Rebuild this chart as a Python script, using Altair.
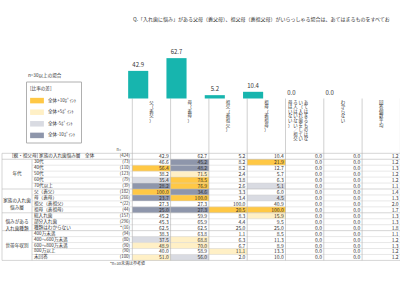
import altair as alt
import pandas as pd

FONT = "Noto Sans CJK JP"
TEAL = "#17b5ae"

title_text = "Q.「入れ歯に悩み」がある父母（義父母）、祖父母（義祖父母）がいらっしゃる場合は、あてはまるものをすべてお"
categories = ["父（義父）", "母（義母）", "祖父（義祖父）", "祖母（義祖母）",
              "あてはまるものはない（入れ歯をしている人はいない／祖父母はいない）", "わからない"]
bar_values = [42.9, 62.7, 5.2, 10.4, 0.0, 0.0]
avg_header = "回答個数平均"
y_ticks = [0, 20, 40, 60, 80]

row_labels = ["[親・祖父母] 家族の入れ歯悩み層　全体", "30代", "40代", "50代", "60代", "70代以上",
              "父（義父）", "母（義母）", "祖父（義祖父）", "祖母（義祖母）",
              "総入れ歯", "部分入れ歯", "種類はわからない",
              "400万未満", "400～600万未満", "600～800万未満", "800万以上", "未回答"]
row_n = [424, 73, 110, 123, 79, 39, 182, 266, 22, 44, 157, 296, 16, 94, 80, 90, 90, 100]

col_father = [42.9, 46.6, 56.4, 38.2, 35.4, 28.2, 100.0, 23.7, 27.3, 25.0, 45.2, 45.3, 62.5, 38.3, 37.5, 48.9, 40.0, 51.0]
col_mother = [62.7, 45.2, 48.2, 71.5, 78.5, 76.9, 34.6, 100.0, 27.3, 27.3, 59.9, 65.9, 62.5, 63.8, 68.8, 70.0, 58.9, 56.0]
col_gfather = [5.2, 8.2, 8.2, 2.4, 3.8, 2.6, 3.3, 3.4, 100.0, 20.5, 8.3, 4.4, 25.0, 1.1, 6.3, 6.7, 11.1, 2.0]
col_gmother = [10.4, 21.9, 12.7, 5.7, 6.3, 5.1, 6.0, 4.5, 40.9, 100.0, 15.9, 9.5, 25.0, 8.5, 11.3, 8.9, 13.3, 10.0]
col_none = [0.0, 0.0, 0.0, 0.0, 0.0, 0.0, 0.0, 0.0, 0.0, 0.0, 0.0, 0.0, 0.0, 0.0, 0.0, 0.0, 0.0, 0.0]
col_unknown = [0.0, 0.0, 0.0, 0.0, 0.0, 0.0, 0.0, 0.0, 0.0, 0.0, 0.0, 0.0, 0.0, 0.0, 0.0, 0.0, 0.0, 0.0]
col_avg = [1.2, 1.2, 1.3, 1.2, 1.2, 1.1, 1.4, 1.3, 2.0, 1.7, 1.3, 1.3, 1.8, 1.1, 1.2, 1.3, 1.2, 1.2]

groups = [("年代", 1, 6), ("家族の入れ歯\n悩み層", 6, 10), ("悩みがある\n入れ歯種類", 10, 13), ("世帯年収別", 13, 18)]
legend_labels = ["全体+10ﾎﾟｲﾝﾄ", "全体+5ﾎﾟｲﾝﾄ", "全体-5ﾎﾟｲﾝﾄ", "全体-10ﾎﾟｲﾝﾄ"]
legend_colors = ["#ffc845", "#fff0c6", "#d9dbe2", "#8e96ab"]

# ---------------- table data ----------------
value_cols = [col_father, col_mother, col_gfather, col_gmother, col_none, col_unknown, col_avg]
cells = []
for j, col in enumerate(value_cols):
    for i, v in enumerate(col):
        cls = ""
        if j < 6 and i > 0 and row_n[i] >= 30:
            d = v - col[0]
            if d >= 10:
                cls = legend_labels[0]
            elif d >= 5:
                cls = legend_labels[1]
            elif d <= -10:
                cls = legend_labels[3]
            elif d <= -5:
                cls = legend_labels[2]
        cells.append({"x0": j, "x1": j + 1, "y0": i, "y1": i + 1, "ym": i + 0.5,
                      "label": f"{v:.1f}", "cls": cls})
cells_df = pd.DataFrame(cells)

rows_df = pd.DataFrame({"ym": [i + 0.5 for i in range(len(row_labels))],
                        "label": row_labels,
                        "n": [("*" if n < 30 else "") + f"({n})" for n in row_n]})
group_df = pd.DataFrame({"label": [g[0] for g in groups],
                         "ym": [(g[1] + g[2]) / 2 for g in groups]})

# vertical (tategaki) headers: one character per line, long labels wrapped right-to-left
header_texts = categories + [avg_header]
hdr = []
for j, t in enumerate(header_texts):
    chunks = [t[k:k + 9] for k in range(0, len(t), 9)]
    m = len(chunks)
    shift = -0.17 if m > 1 else 0.0
    for c, ch in enumerate(chunks):
        off = ((m - 1) / 2 - c) * 0.138 + shift
        hdr.append({"x": j + 0.5 + off, "t": "\n".join(ch)})
hdr_df = pd.DataFrame(hdr)

bounds = [0, 1, 6, 10, 13, 18]
full_lines = pd.DataFrame({"y": bounds})
inner_lines = pd.DataFrame({"y": [k for k in range(1, 18) if k not in bounds]})
vlines = pd.DataFrame({"k": list(range(8))})

T_TOP, T_BOT = 153.3, 260.4
tx = alt.Scale(domain=[0, 7], range=[132.3, 400.4])
ty = alt.Scale(domain=[0, 18], range=[T_TOP, T_BOT])


def TX(f):
    return alt.X(f, type="quantitative", scale=tx, axis=None)


def TY(f):
    return alt.Y(f, type="quantitative", scale=ty, axis=None)


txt = dict(font=FONT, color="#333333")

cell_rects = alt.Chart(cells_df).transform_filter("datum.cls != ''").mark_rect().encode(
    x=TX("x0"), x2="x1", y=TY("y0"), y2="y1",
    color=alt.Color("cls:N", scale=alt.Scale(domain=legend_labels, range=legend_colors),
                    legend=alt.Legend(title="[比率の差]", orient="none", legendX=26, legendY=81.5,
                                      titleFontSize=4.6, titleFont=FONT, titleFontWeight="normal",
                                      titleColor="#333", labelFontSize=4.6, labelFont=FONT,
                                      labelColor="#333", symbolType="M-1,-0.4H1V0.4H-1Z",
                                      symbolSize=190, symbolStrokeWidth=0, symbolOpacity=1,
                                      strokeColor="#b0b0b0", padding=4, rowPadding=1.6,
                                      labelOffset=4, titlePadding=3.5, fillColor="white")))

cell_text = alt.Chart(cells_df).mark_text(align="right", baseline="middle", dx=-1.8,
                                          fontSize=5, **txt).encode(
    x=TX("x1"), y=TY("ym"), text="label:N")

hl_full = alt.Chart(full_lines).mark_rule(color="#b8b8b8", strokeWidth=0.6).encode(
    x=alt.value(2), x2=alt.value(400), y=TY("y"))
hl_inner = alt.Chart(inner_lines).mark_rule(color="#d0d0d0", strokeWidth=0.5).encode(
    x=alt.value(32), x2=alt.value(400), y=TY("y"))
vl = alt.Chart(vlines).mark_rule(color="#b0b0b0", strokeWidth=0.6).encode(
    x=TX("k"), y=alt.value(98.5), y2=alt.value(T_BOT))
vl_left = alt.Chart(pd.DataFrame({"a": [0]})).mark_rule(color="#b8b8b8", strokeWidth=0.6).encode(
    x=alt.value(2), y=alt.value(T_TOP), y2=alt.value(T_BOT))
vl_grp = alt.Chart(pd.DataFrame({"a": [0]})).mark_rule(color="#b8b8b8", strokeWidth=0.6).encode(
    x=alt.value(32), y=alt.value(T_TOP + (T_BOT - T_TOP) / 18), y2=alt.value(T_BOT))

row_text = alt.Chart(rows_df).transform_filter("datum.ym > 1").mark_text(
    align="left", baseline="middle", fontSize=4.6, **txt).encode(
    x=alt.value(34), y=TY("ym"), text="label:N")
row0_text = alt.Chart(rows_df).transform_filter("datum.ym < 1").mark_text(
    align="left", baseline="middle", fontSize=4.6, **txt).encode(
    x=alt.value(12), y=TY("ym"), text="label:N")
n_text = alt.Chart(rows_df).mark_text(align="right", baseline="middle", fontSize=4.4, **txt).encode(
    x=alt.value(130), y=TY("ym"), text="n:N")
grp_text = alt.Chart(group_df).mark_text(align="center", baseline="middle", fontSize=4.6,
                                         lineBreak="\n", lineHeight=7, **txt).encode(
    x=alt.value(17), y=TY("ym"), text="label:N")

hdr_text = alt.Chart(hdr_df).mark_text(align="center", baseline="top", fontSize=4.4,
                                       lineBreak="\n", lineHeight=4.6, **txt).encode(
    x=TX("x"), y=alt.value(100.5), text="t:N")

n_hdr = alt.Chart(pd.DataFrame({"t": ["n="]})).mark_text(
    align="right", baseline="middle", fontSize=3.8, **txt).encode(
    x=alt.value(121), y=alt.value(149.5), text="t:N")
foot = alt.Chart(pd.DataFrame({"t": ["*n=30未満は参考値"]})).mark_text(
    align="left", baseline="middle", fontSize=4, **txt).encode(
    x=alt.value(110), y=alt.value(264), text="t:N")
cond = alt.Chart(pd.DataFrame({"t": ["n=30以上の場合"]})).mark_text(
    align="left", baseline="middle", fontSize=4.6, **txt).encode(
    x=alt.value(28), y=alt.value(75.5), text="t:N")
title = alt.Chart(pd.DataFrame({"t": [title_text]})).mark_text(
    align="left", baseline="middle", fontSize=5.0, **txt).encode(
    x=alt.value(133), y=alt.value(18.5), text="t:N")

# ---------------- bars ----------------
bar_df = pd.DataFrame({"cat": categories, "v": bar_values})
bx_scale = alt.Scale(range=[119.05, 348.85], paddingInner=0.475, paddingOuter=0.2375)
by_scale = alt.Scale(domain=[0, 80], range=[98.5, 47])
bars = alt.Chart(bar_df).mark_bar(color=TEAL).encode(
    x=alt.X("cat:N", sort=categories, scale=bx_scale,
            axis=alt.Axis(orient="bottom", offset=-201.5, labels=False, ticks=False,
                          domainColor="#b8b8b8", domainWidth=0.8, title=None, grid=False)),
    y=alt.Y("v:Q", scale=by_scale,
            axis=alt.Axis(orient="left", offset=-117, values=y_ticks, labelExpr="datum.value + '%'",
                          domain=False, ticks=False, grid=False, title=None, labelFontSize=4.8,
                          labelFont=FONT, labelColor="#333", labelPadding=1)))
bar_lbl = alt.Chart(bar_df).mark_text(baseline="bottom", dy=-3, fontSize=6, **txt).encode(
    x=alt.X("cat:N", sort=categories, scale=bx_scale, axis=None),
    y=alt.Y("v:Q", scale=by_scale, axis=None),
    text=alt.Text("v:Q", format=".1f"))
bar_layer = alt.layer(bars, bar_lbl)

chart = alt.layer(
    cell_rects, hl_full, hl_inner, vl, vl_left, vl_grp, cell_text, row_text, row0_text, n_text,
    grp_text, hdr_text, n_hdr, foot, cond, title, bar_layer
).resolve_scale(x="independent", y="independent", color="independent").properties(
    width=400, height=300, padding=0, autosize=alt.AutoSizeParams(type="none"),
    background="white"
).configure_view(stroke=None)

chart.save("out.html", embed_options={"renderer": "svg", "actions": False})
